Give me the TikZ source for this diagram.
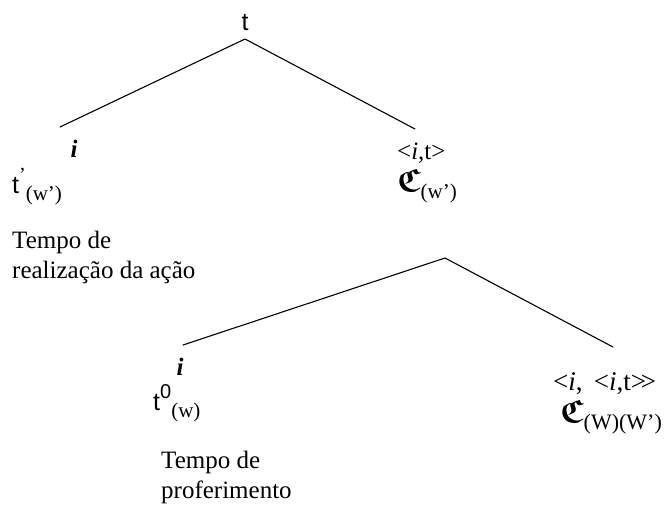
\documentclass[tikz,border=0pt]{standalone}
\usepackage{amssymb}
\usepackage{bm}
\usepackage{fontspec}
\setmainfont{Liberation Serif}
\setsansfont{Liberation Sans}
\newcommand{\frakC}{\scalebox{1.3}{$\bm{\mathfrak{C}}$}}
\newcommand{\sbx}[1]{\raisebox{-0.28em}{\fontsize{21}{21}\selectfont\rmfamily #1}}
\newcommand{\spx}[1]{\raisebox{0.45em}{\fontsize{20}{20}\selectfont #1}}
\begin{document}
\begin{tikzpicture}[x=1pt,y=-1pt,
  lbl/.style={inner sep=0pt, font=\fontsize{25}{30}\selectfont},
  branch/.style={line width=1.1pt, line cap=round, line join=round}]
\useasboundingbox (0,0) rectangle (669,523);

% upper tree
\node[lbl, anchor=base, font=\fontsize{25}{30}\sffamily] (top) at (245,30) {t};
\coordinate (apexA) at (245,39);
\coordinate (leftA) at (60,127);
\coordinate (rightA) at (415,129);
\draw[branch] (leftA) -- (apexA) -- (rightA);

\node[lbl, anchor=base] (iA) at (74,157) {\textbf{\textit{i}}};
\node[lbl, anchor=base west] (tA) at (12,193) {\sffamily t\spx{\rmfamily ’}\sbx{(w’)}};
\node[lbl, anchor=base west] (typeA) at (397,159) {<\textit{i},t>};
\node[lbl, anchor=base west] (cA) at (397,191) {\frakC\sbx{(w’)}};

\node[lbl, anchor=base west, align=left] (noteA) at (12,278) {Tempo de\\realização da ação};

% lower tree
\coordinate (apexB) at (445,258);
\coordinate (leftB) at (183,345);
\coordinate (rightB) at (613,347);
\draw[branch] (leftB) -- (apexB) -- (rightB);

\node[lbl, anchor=base] (iB) at (180,375) {\textbf{\textit{i}}};
\node[lbl, anchor=base west] (tB) at (153,410) {\sffamily t\spx{\sffamily 0}\sbx{(w)}};
\node[lbl, anchor=base west, font=\fontsize{27}{30}\selectfont] (typeB) at (553,390) {<\textit{i},\,\ <\textit{i},t>\kern-0.2em>};
\node[lbl, anchor=base west] (cB) at (560,422) {\frakC\raisebox{-0.28em}{\fontsize{22}{22}\selectfont (W)(W’)}};

\node[lbl, anchor=base west, align=left] (noteB) at (161,498) {Tempo de\\proferimento};
\end{tikzpicture}
\end{document}
